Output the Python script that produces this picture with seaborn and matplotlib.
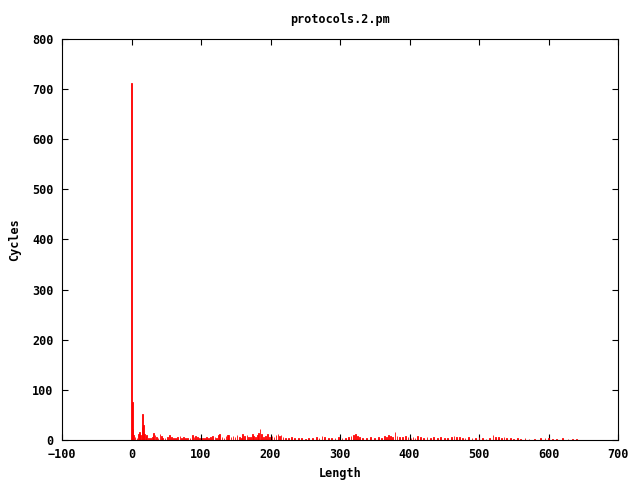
import matplotlib
matplotlib.use("Agg")
import seaborn as sns
from matplotlib import pyplot as plt

# Daten
length = [0, 1, 2, 3, 5, 8, 10, 12, 13, 15, 16, 17, 18, 19, 21, 22, 24, 27, 30, 32,
          34, 36, 38, 41, 43, 45, 48, 52, 55, 58, 60, 63, 66, 70, 72, 75, 78, 81, 84, 88,
          90, 92, 95, 98, 102, 105, 108, 111, 114, 117, 120, 122, 125, 127, 130, 133, 136, 138, 140, 143,
          146, 149, 152, 155, 158, 160, 163, 166, 168, 171, 174, 176, 178, 181, 183, 185, 187, 190, 193, 196,
          199, 202, 205, 208, 211, 213, 215, 218, 222, 226, 230, 235, 240, 245, 250, 255, 260, 266, 270, 274,
          278, 283, 288, 293, 298, 303, 308, 312, 316, 319, 322, 325, 328, 332, 338, 344, 350, 355, 360, 364,
          367, 370, 373, 376, 379, 382, 386, 390, 394, 398, 402, 405, 408, 412, 416, 420, 425, 430, 435, 440,
          445, 450, 455, 460, 464, 468, 472, 476, 480, 485, 490, 495, 500, 505, 510, 515, 520, 524, 528, 532,
          536, 540, 545, 550, 555, 560, 566, 572, 580, 588, 595, 600, 606, 612, 620, 628, 635, 640]
cycles = [712, 76, 22, 10, 5, 3, 12, 15, 10, 25, 52, 30, 14, 12, 8, 10, 4, 3, 5, 14,
          10, 6, 3, 12, 8, 4, 3, 5, 10, 6, 4, 3, 5, 8, 4, 6, 3, 4, 3, 10,
          6, 8, 5, 3, 4, 3, 6, 4, 5, 8, 6, 4, 10, 12, 5, 4, 8, 10, 9, 6,
          8, 5, 10, 6, 4, 12, 8, 10, 6, 5, 12, 8, 6, 10, 14, 22, 12, 6, 8, 12,
          5, 8, 6, 10, 12, 8, 10, 6, 4, 3, 5, 3, 4, 3, 2, 4, 3, 5, 4, 8,
          5, 3, 4, 3, 5, 3, 4, 6, 8, 10, 12, 8, 5, 4, 3, 5, 3, 6, 4, 8,
          6, 10, 8, 6, 16, 8, 5, 6, 8, 5, 4, 6, 3, 8, 6, 4, 5, 3, 6, 4,
          5, 3, 4, 6, 8, 5, 6, 4, 3, 5, 4, 3, 5, 3, 2, 4, 10, 5, 6, 4,
          5, 3, 4, 2, 3, 2, 3, 2, 2, 3, 4, 3, 2, 2, 3, 2, 2, 2]

sns.set_style("ticks")
plt.rcParams["font.family"] = ["DejaVu Sans Mono", "DejaVu Sans"]
plt.rcParams["font.weight"] = "bold"
plt.rcParams["text.color"] = "black"
plt.rcParams["xtick.color"] = "black"
plt.rcParams["ytick.color"] = "black"
plt.rcParams["axes.labelcolor"] = "black"

fig = plt.figure(figsize=(6.4, 4.8), dpi=100)
ax = fig.add_axes([62 / 640, 40 / 480, 556 / 640, 401 / 480])

sns.histplot(x=length, weights=cycles, discrete=True, color="#ff0000",
             edgecolor="#ff0000", linewidth=0.6, alpha=1, ax=ax)

ax.set_xlim(-100, 700)
ax.set_ylim(0, 800)
ax.set_xticks(range(-100, 701, 100))
ax.set_yticks(range(0, 801, 100))
ax.tick_params(direction="in", top=True, right=True, length=4, width=0.8,
               labelsize=8.5, pad=6, color="black", labelcolor="black")
for lab in ax.get_xticklabels() + ax.get_yticklabels():
    lab.set_fontweight("bold")
for sp in ax.spines.values():
    sp.set_visible(True)
    sp.set_linewidth(0.8)
    sp.set_color("black")
ax.set_xlabel("")
ax.set_ylabel("")

fig.text(340 / 640, 1 - 19 / 480, "protocols.2.pm", ha="center", va="center",
         fontsize=8.5, fontweight="bold", color="black")
fig.text(340 / 640, 1 - 473 / 480, "Length", ha="center", va="center",
         fontsize=8.5, fontweight="bold", color="black")
fig.text(15 / 640, 1 - 240 / 480, "Cycles", ha="center", va="center",
         rotation=90, fontsize=8.5, fontweight="bold", color="black")

plt.savefig("out.png", dpi=100)
